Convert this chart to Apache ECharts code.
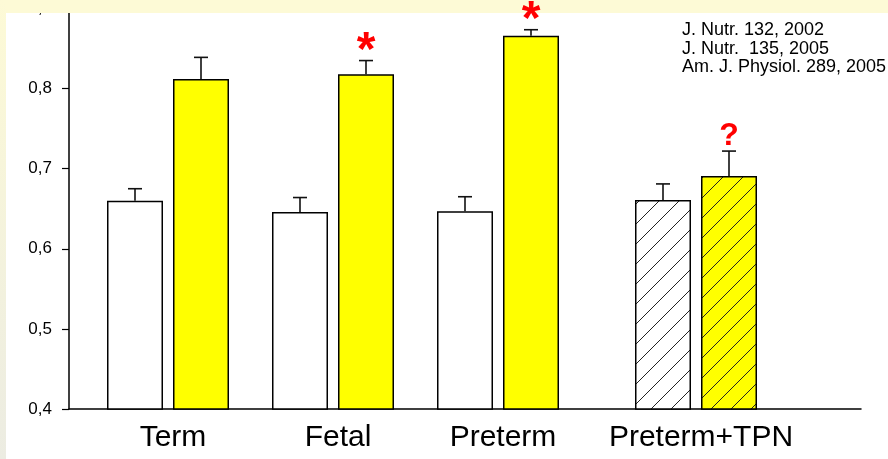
<!DOCTYPE html>
<html><head><meta charset="utf-8">
<script src="https://cdn.jsdelivr.net/npm/echarts@6/dist/echarts.min.js"></script>
<style>html,body{margin:0;padding:0;background:#fff}#c{width:888px;height:459px}</style>
</head><body><div id="c"></div>
<script>
// ---- data ----
const categories = ['Term', 'Fetal', 'Preterm', 'Preterm+TPN'];
const groupPos = [1, 2, 3, 4.2];
const controlValues = [0.660, 0.646, 0.647, 0.661];
const controlErrors = [0.015, 0.018, 0.018, 0.020];
const treatedValues = [0.812, 0.818, 0.866, 0.691];
const treatedErrors = [0.027, 0.017, 0.0075, 0.031];
const hatched = [false, false, false, true];
const annotations = ['', '*', '*', '?'];
const yTickLabels = ['0,4', '0,5', '0,6', '0,7', '0,8', '0,9'];
const references = ['J. Nutr. 132, 2002', 'J. Nutr.  135, 2005', 'Am. J. Physiol. 289, 2005'];

// ---- styles ----
const FONT = '"Liberation Sans", Arial, sans-serif';
const barHalfOffset = 0.2; // in x-axis units

function hatchPattern(bg) {
  const s = 20;
  const cv = document.createElement('canvas');
  cv.width = s; cv.height = s;
  const ctx = cv.getContext('2d');
  ctx.fillStyle = bg; ctx.fillRect(0, 0, s, s);
  ctx.strokeStyle = '#222'; ctx.lineWidth = 1;
  ctx.beginPath();
  ctx.moveTo(0, s); ctx.lineTo(s, 0);
  ctx.moveTo(-2, 2); ctx.lineTo(2, -2);
  ctx.moveTo(s - 2, s + 2); ctx.lineTo(s + 2, s - 2);
  ctx.stroke();
  return { image: cv, repeat: 'repeat' };
}

const chart = echarts.init(document.getElementById('c'), null, { renderer: 'canvas' });

function barData(values, offset, fill) {
  return values.map((v, i) => ({
    value: [groupPos[i] + offset, v],
    itemStyle: hatched[i] ? { color: hatchPattern(fill) } : undefined
  }));
}
function errData(values, errs, offset, withAnnot) {
  return values.map((v, i) => [groupPos[i] + offset, v, errs[i], withAnnot ? i : -1]);
}
function renderErr(params, api) {
  const x = api.value(0), v = api.value(1), e = api.value(2), ai = api.value(3);
  const p0 = api.coord([x, v]);
  const p1 = api.coord([x, v + e]);
  const st = { stroke: '#111', lineWidth: 1.6 };
  const children = [
    { type: 'line', shape: { x1: p0[0], y1: p0[1], x2: p1[0], y2: p1[1] }, style: st },
    { type: 'line', shape: { x1: p1[0] - 7, y1: p1[1], x2: p1[0] + 7, y2: p1[1] }, style: st }
  ];
  if (ai >= 0 && annotations[ai]) {
    const isStar = annotations[ai] === '*';
    children.push({
      type: 'text',
      style: {
        text: annotations[ai], x: p1[0], y: p1[1] + (isStar ? 15 : 1),
        fill: '#ff0000', font: 'bold ' + (isStar ? 48 : 32) + 'px ' + FONT,
        align: 'center', verticalAlign: 'bottom'
      }
    });
  }
  return { type: 'group', children };
}

const option = {
  animation: false,
  backgroundColor: '#ffffff',
  grid: { left: 69, right: 27, top: 7, bottom: 50 },
  xAxis: {
    type: 'value', min: 0.4, max: 5.2,
    splitLine: { show: false },
    axisLine: { show: true, lineStyle: { color: '#000', width: 1.5 } },
    axisTick: { show: false },
    axisLabel: {
      customValues: groupPos,
      fontFamily: FONT, fontSize: 30, color: '#000', margin: 14,
      padding: [0, 0, 0, 10],
      formatter: (val) => {
        const i = groupPos.findIndex(p => Math.abs(p - val) < 1e-6);
        return i >= 0 ? categories[i] : '';
      }
    }
  },
  yAxis: {
    type: 'value', min: 0.4, max: 0.9, interval: 0.1,
    splitLine: { show: false },
    axisLine: { show: true, onZero: false, lineStyle: { color: '#000', width: 1.5 } },
    axisTick: { show: true, length: 7, lineStyle: { color: '#000', width: 1.2 } },
    axisLabel: {
      fontFamily: FONT, fontSize: 17, color: '#000', margin: 17,
      formatter: (val) => yTickLabels[Math.round((val - 0.4) * 10)] || ''
    }
  },
  series: [
    {
      type: 'bar', name: 'control', barWidth: 56, barGap: '-100%',
      data: barData(controlValues, -barHalfOffset, '#ffffff'),
      itemStyle: { color: '#ffffff', borderColor: '#000', borderWidth: 1.5 }
    },
    {
      type: 'bar', name: 'treated', barWidth: 56, barGap: '-100%',
      data: barData(treatedValues, barHalfOffset, '#ffff00'),
      itemStyle: { color: '#ffff00', borderColor: '#000', borderWidth: 1.5 }
    },
    {
      type: 'custom', name: 'controlErr', renderItem: renderErr, clip: false, z: 100,
      data: errData(controlValues, controlErrors, -barHalfOffset, false)
    },
    {
      type: 'custom', name: 'treatedErr', renderItem: renderErr, clip: false, z: 100,
      data: errData(treatedValues, treatedErrors, barHalfOffset, true)
    }
  ],
  graphic: [
    { type: 'rect', z: 50, shape: { x: 0, y: 0, width: 888, height: 13 }, style: { fill: '#fdfad6' } },
    {
      type: 'rect', z: 50, shape: { x: 0, y: 0, width: 6, height: 459 },
      style: {
        fill: new echarts.graphic.LinearGradient(0, 0, 0, 1, [
          { offset: 0, color: '#fdfad6' }, { offset: 1, color: '#ecece2' }
        ])
      }
    },
    {
      type: 'text', z: 60, left: 682, top: 21,
      style: { text: references.join('\n'), font: '18px ' + FONT, lineHeight: 18.5, fill: '#000' }
    }
  ]
};
chart.setOption(option);
</script>
</body></html>
